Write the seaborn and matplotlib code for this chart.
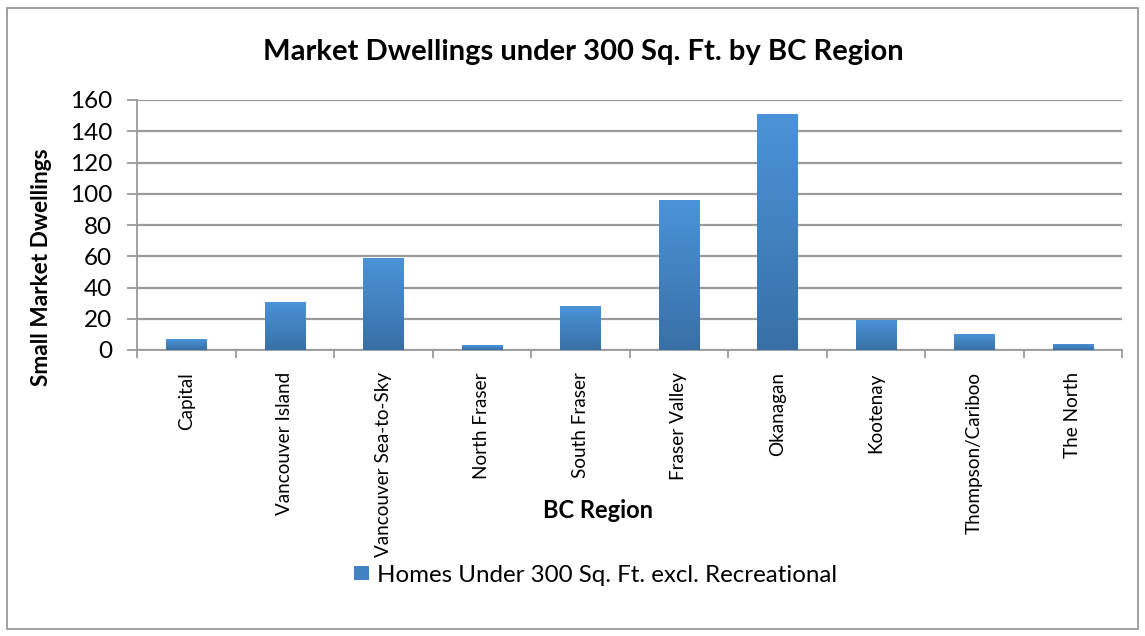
import numpy as np
import pandas as pd
import matplotlib
matplotlib.use("Agg")
import matplotlib.pyplot as plt
import seaborn as sns
from matplotlib.patches import Rectangle
from matplotlib.colors import LinearSegmentedColormap

regions = ["Capital", "Vancouver Island", "Vancouver Sea-to-Sky", "North Fraser",
           "South Fraser", "Fraser Valley", "Okanagan", "Kootenay",
           "Thompson/Cariboo", "The North"]
homes = [7, 31, 59, 3, 28, 96, 151, 19, 10, 4]
yticks = [0, 20, 40, 60, 80, 100, 120, 140, 160]
series_name = "Homes Under 300 Sq. Ft. excl. Recreational"
title = "Market Dwellings under 300 Sq. Ft. by BC Region"

sns.set_theme(style="white")
plt.rcParams["font.family"] = ["Lato", "DejaVu Sans"]
plt.rcParams["text.color"] = "black"
plt.rcParams["xtick.labelcolor"] = "black"
plt.rcParams["ytick.labelcolor"] = "black"

df = pd.DataFrame({"region": regions, "homes": homes})

fig = plt.figure(figsize=(11.45, 6.36), dpi=100)
ax = fig.add_axes([137/1145, 1-350/636, (1122-137)/1145, 250/636])

sns.barplot(data=df, x="region", y="homes", color="#4a8fd3", width=0.41,
            ax=ax, saturation=1, zorder=3)

cmap = LinearSegmentedColormap.from_list("g", ["#3870a6", "#4b93d8"])
grad = np.linspace(0, 1, 256).reshape(-1, 1)
for p in ax.patches:
    x0, y0 = p.get_x(), p.get_y()
    w, h = p.get_width(), p.get_height()
    im = ax.imshow(grad, cmap=cmap, origin="lower", aspect="auto",
                   extent=(x0, x0 + w, y0, y0 + h), zorder=3)
    im.set_clip_path(p)
    p.set_facecolor("none")
    p.set_edgecolor("none")

ax.set_xlim(-0.5, len(regions) - 0.5)
ax.set_ylim(0, 160)
ax.set_yticks(yticks)
ax.set_yticklabels([str(v) for v in yticks], fontsize=17.5)
ax.yaxis.grid(True, color="#9a9a9a", linewidth=1.6, zorder=0)
ax.set_axisbelow(True)

ax.set_xticks(range(len(regions)))
ax.set_xticklabels(regions, rotation=90, fontsize=13.6)
ax.set_xticks(np.arange(-0.5, len(regions)), minor=True)
ax.tick_params(axis="x", which="major", length=0, pad=16, labelcolor="black")
ax.tick_params(axis="x", which="minor", length=6, width=1.3, color="#9a9a9a", direction="out", bottom=True)
ax.tick_params(axis="y", length=7, width=1.3, color="#9a9a9a", direction="out", left=True, pad=11,
               labelcolor="black")

for s in ["top", "right"]:
    ax.spines[s].set_visible(False)
for s in ["left", "bottom"]:
    ax.spines[s].set_color("#9a9a9a")
    ax.spines[s].set_linewidth(1.3)

ax.set_xlabel("")
ax.set_ylabel("")
fig.text(598/1145, 1-511/636, "BC Region", ha="center", va="center", fontsize=17, fontweight="bold",
         color="black")
fig.text(42/1145, 1-267/636, "Small Market Dwellings", ha="center", va="center", rotation=90,
         fontsize=16.3, fontweight="bold", color="black")
fig.text(583/1145, 1-52/636, title, ha="center", va="center", fontsize=21, fontweight="bold",
         color="black")

# legend
fig.patches.append(Rectangle((354/1145, 1-580/636), 15/1145, 14/636, transform=fig.transFigure,
                             facecolor="#4281c4", edgecolor="none"))
fig.text(377/1145, 1-575/636, series_name, ha="left", va="center", fontsize=17.4, color="black")

# outer border
fig.patches.append(Rectangle((7/1145, 1-629/636), 1131/1145, 621/636, transform=fig.transFigure,
                             facecolor="none", edgecolor="#9a9a9a", linewidth=1.3))

fig.savefig("out.png", dpi=100)
